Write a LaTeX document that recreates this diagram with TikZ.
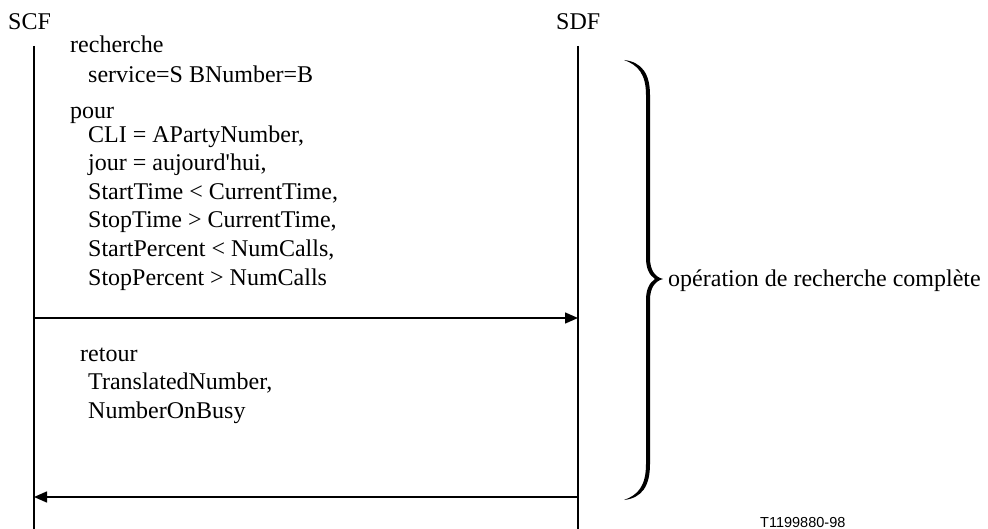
\documentclass[tikz,border=0pt]{standalone}
\usepackage{fontspec}
\setmainfont{Liberation Serif}
\newfontfamily\figsans{Liberation Sans}
\usetikzlibrary{arrows.meta}
\begin{document}
\begin{tikzpicture}[x=1pt,y=-1pt,
  txt/.style={anchor=base west, inner sep=0pt, font=\fontsize{24}{28}\selectfont},
  life/.style={line width=1.4pt},
  msg/.style={line width=1.4pt, -{Triangle[length=13pt,width=11pt]}},
]
\useasboundingbox (0,0) rectangle (988,529);

% entities
\node[txt] (scf) at (8,30) {SCF};
\node[txt] (sdf) at (556,30) {SDF};

% lifelines
\coordinate (scfTop) at (34,46);
\coordinate (scfBot) at (34,529);
\coordinate (sdfTop) at (578,46);
\coordinate (sdfBot) at (578,529);
\draw[life] (scfTop) -- (scfBot);
\draw[life] (sdfTop) -- (sdfBot);

% request
\node[txt] (q1) at (70,53) {recherche};
\node[txt] (q2) at (88,83) {service=S BNumber=B};
\node[txt] (q3) at (70,119) {pour};
\node[txt] (q4) at (88,143) {CLI = APartyNumber,};
\node[txt] (q5) at (88,171) {jour = aujourd\textquotesingle hui,};
\node[txt] (q6) at (88,200) {StartTime < CurrentTime,};
\node[txt] (q7) at (88,228) {StopTime > CurrentTime,};
\node[txt] (q8) at (88,257) {StartPercent < NumCalls,};
\node[txt] (q9) at (88,286) {StopPercent > NumCalls};

\coordinate (reqFrom) at (34,318);
\coordinate (reqTo) at (578,318);
\draw[msg] (reqFrom) -- (reqTo);

% reply
\node[txt] (r1) at (80,361) {retour};
\node[txt] (r2) at (88,389) {TranslatedNumber,};
\node[txt] (r3) at (88,418) {NumberOnBusy};

\coordinate (repFrom) at (578,497);
\coordinate (repTo) at (34,497);
\draw[msg] (repFrom) -- (repTo);

% brace spanning the whole exchange
\fill (624,60) .. controls (642,62) and (650,74) .. (650,95)
  -- (650,258) .. controls (650,270) and (655,277) .. (663,279)
  .. controls (655,281) and (650,288) .. (650,300)
  -- (650,464) .. controls (650,486) and (642,498) .. (624,500)
  .. controls (638,495) and (646,486) .. (646,464)
  -- (646,300) .. controls (646,290) and (649,283) .. (655,279)
  .. controls (649,275) and (646,268) .. (646,258)
  -- (646,95) .. controls (646,74) and (638,65) .. (624,60) -- cycle;
\node[txt] (op) at (668,287) {opération de recherche complète};

% figure reference
\node[anchor=base west, inner sep=0pt, font=\figsans\fontsize{14.5}{16}\selectfont] (ref) at (760,527) {T1199880-98};
\end{tikzpicture}
\end{document}
